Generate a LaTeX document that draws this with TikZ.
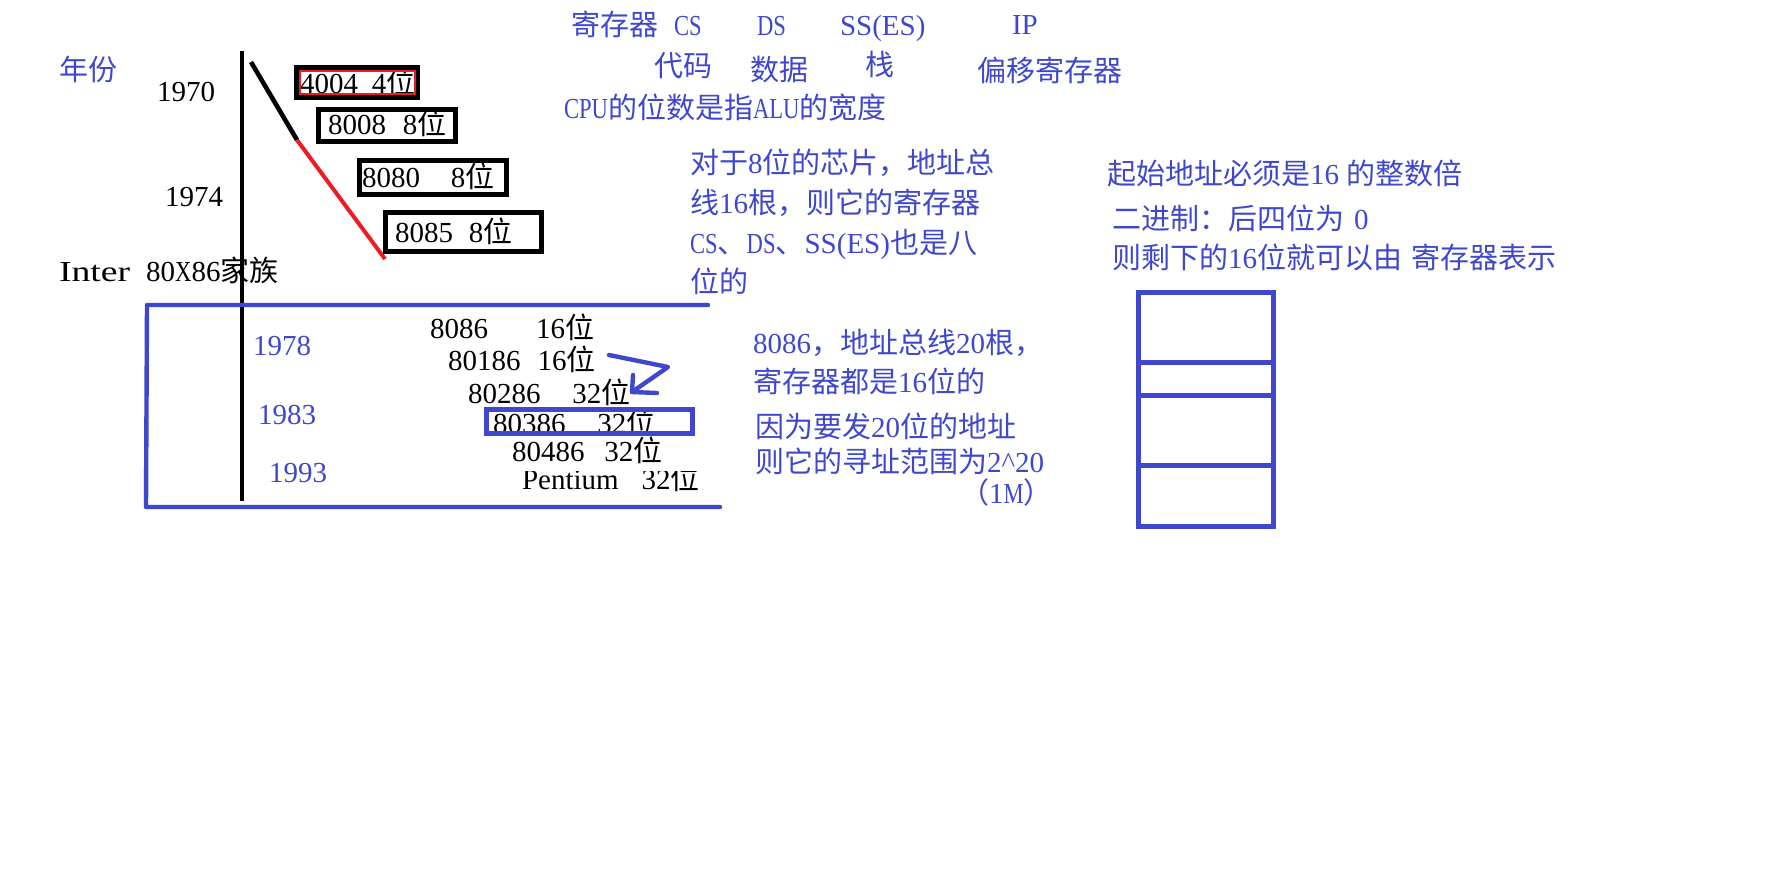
\documentclass[tikz,border=0pt]{standalone}
\usepackage{fontspec}
\setmainfont{Liberation Serif}
\newfontfamily\cjfont{Noto Sans CJK SC}
\newfontfamily\nwfont[FakeStretch=0.78]{Liberation Serif}
\newfontfamily\wdfont[FakeStretch=1.3]{Liberation Serif}
\newcommand\zh[1]{{\cjfont #1}}
\newcommand\nw[1]{{\nwfont #1}}
\newcommand\wde[1]{{\wdfont #1}}
\definecolor{pblue}{HTML}{3F48CC}
\definecolor{pred}{HTML}{ED1C24}
\tikzset{
  basetxt/.style={inner sep=0pt, outer sep=0pt, anchor=west, text height=0.8em, text depth=0.05em, yshift=-1.5pt, font=\fontsize{14.5pt}{17pt}\selectfont},
  bt/.style={basetxt, text=pblue},
  kt/.style={basetxt, text=black},
  chipbox/.style={draw=black, line width=2.5pt, inner sep=0pt},
  redbox/.style={draw=pred, line width=0.6pt, inner sep=0pt},
  bluebox/.style={draw=pblue, line width=2.5pt, inner sep=0pt},
  cell/.style={draw=pblue, line width=2.5pt, inner sep=0pt, minimum width=67.5pt},
  kline/.style={draw=black, line width=2.3pt},
  rline/.style={draw=pred, line width=2pt},
  bline/.style={draw=pblue, line width=2.2pt, line join=round, line cap=round},
}
\begin{document}
\begin{tikzpicture}[x=0.5pt,y=-0.5pt]
\useasboundingbox[fill=white] (0,0) rectangle (1782,869);

% timeline and diagonal
\coordinate (t1) at (242,51);
\coordinate (t2) at (242,501);
\draw[kline] (t1) -- (t2);
\coordinate (d1) at (251,62);
\coordinate (d2) at (297,140);
\coordinate (d3) at (385,259);
\draw[kline] (d1) -- (d2);
\draw[rline] (d2) -- (d3);

% left labels
\node[bt] (yearlbl) at (59,70) {\zh{年份}};
\node[kt] (y1970) at (157,91) {1970};
\node[kt] (y1974) at (165,196) {1974};
\node[kt] (family) at (59,271) {\wde{Inter}\hspace{8pt}80\nw{X}86\zh{家族}};

% early chips
\node[kt] (t4004) at (300,83) {4004\hspace{7pt}4\zh{位}};
\node[kt] (t8008) at (328,124) {8008\hspace{8.5pt}8\zh{位}};
\node[kt] (t8080) at (362,177) {8080\hspace{15.5pt}8\zh{位}};
\node[kt] (t8085) at (395,232) {8085\hspace{8pt}8\zh{位}};
\node[chipbox, minimum width=60.5pt, minimum height=15pt] (b4004) at (357,82.5) {};
\node[redbox, minimum width=57.5pt, minimum height=11.5pt] (r4004) at (357.5,82.5) {};
\node[chipbox, minimum width=68.5pt, minimum height=16pt] (b8008) at (387,125.5) {};
\node[chipbox, minimum width=73.5pt, minimum height=17pt] (b8080) at (433,177.5) {};
\node[chipbox, minimum width=78pt, minimum height=19.5pt] (b8085) at (463.5,232) {};

% top register line
\node[bt] (regs) at (571,25) {\zh{寄存器}\hspace{8pt}\nw{CS}};
\node[bt] (ds) at (757,25) {\nw{DS}};
\node[bt] (ss) at (840,25) {SS(ES)};
\node[bt] (ip) at (1012,24) {IP};
\node[bt] (code) at (654,66) {\zh{代码}};
\node[bt] (data) at (750,70) {\zh{数据}};
\node[bt] (stack) at (865,65) {\zh{栈}};
\node[bt] (offs) at (977,71) {\zh{偏移寄存器}};
\node[bt] (cpu) at (564,108) {\nw{CPU}\zh{的位数是指}\nw{ALU}\zh{的宽度}};

% 8-bit note
\node[bt] (n1a) at (690,163) {\zh{对于}8\zh{位的芯片，地址总}};
\node[bt] (n1b) at (690,203) {\zh{线}16\zh{根，则它的寄存器}};
\node[bt] (n1c) at (690,243) {\nw{CS}\zh{、}\nw{DS}\zh{、}SS(ES)\zh{也是八}};
\node[bt] (n1d) at (690,282) {\zh{位的}};

% right note
\node[bt] (n3a) at (1107,174) {\zh{起始地址必须是}16 \zh{的整数倍}};
\node[bt] (n3b) at (1112,219) {\zh{二进制：后四位为}\hspace{5pt}0};
\node[bt] (n3c) at (1112,258) {\zh{则剩下的}16\zh{位就可以由}\hspace{5pt}\zh{寄存器表示}};

% memory cells
\node[cell, minimum height=34.75pt] (c1) at (1206,327.25) {};
\node[cell, minimum height=16.5pt] (c2) at (1206,378.5) {};
\node[cell, minimum height=35pt] (c3) at (1206,430) {};
\node[cell, minimum height=30.5pt] (c4) at (1206,495.5) {};

% 8086 note
\node[bt] (n2a) at (753,343) {8086\zh{，地址总线}20\zh{根，}};
\node[bt] (n2b) at (753,382) {\zh{寄存器都是}16\zh{位的}};
\node[bt] (n2c) at (755,427) {\zh{因为要发}20\zh{位的地址}};
\node[bt] (n2d) at (755,462) {\zh{则它的寻址范围为}2\textasciicircum20};
\node[bt] (n2e) at (960,493) {\zh{（}1\nw{M}\zh{）}};

% blue frame
\coordinate (f1) at (708,305);
\coordinate (f2) at (147,305);
\coordinate (f3) at (146,507);
\coordinate (f4) at (720,507);
\draw[bline] (f1) -- (f2) -- (f3) -- (f4);

% years
\node[bt] (y1978) at (253,345) {1978};
\node[bt] (y1983) at (258,414) {1983};
\node[bt] (y1993) at (269,472) {1993};

% x86 chips
\node[kt] (c8086) at (430,328) {8086\hspace{24pt}16\zh{位}};
\node[kt] (c80186) at (448,360) {80186\hspace{8.5pt}16\zh{位}};
\node[kt] (c80286) at (468,393) {80286\hspace{16pt}32\zh{位}};
\node[kt] (c80386) at (493,423) {80386\hspace{16pt}32\zh{位}};
\node[kt] (c80486) at (512,451) {80486\hspace{10pt}32\zh{位}};
\begin{scope}
  \clip (500,471) rectangle (720,500);
  \node[kt, anchor=base west, yshift=0pt] (cpent) at (522,486) {Pentium\hspace{11.5pt}32\zh{位}};
\end{scope}
\node[bluebox, minimum width=102.75pt, minimum height=11.75pt] (b80386) at (589.25,421.25) {};

% arrow
\coordinate (a1) at (609,355);
\coordinate (a2) at (668,367);
\coordinate (a3) at (632,392);
\coordinate (h1) at (633,375);
\coordinate (h2) at (657,393);
\draw[bline] (a1) -- (a2) -- (a3);
\draw[bline] (h1) -- (a3) -- (h2);
\end{tikzpicture}
\end{document}
